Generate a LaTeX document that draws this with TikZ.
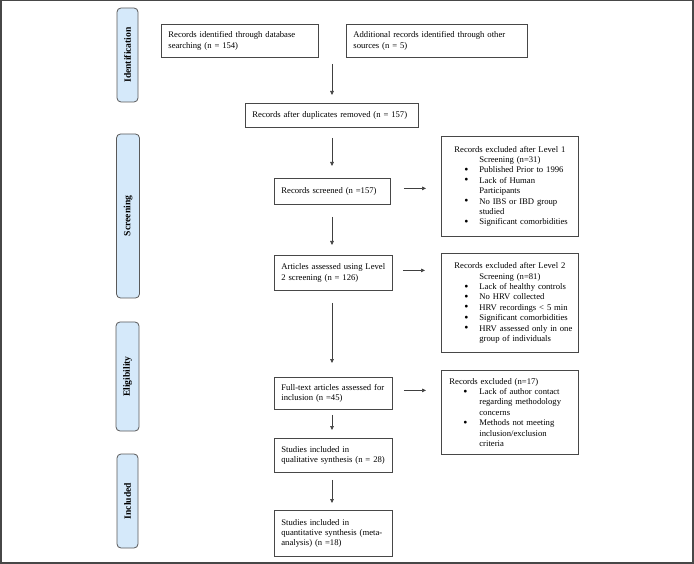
\documentclass[tikz,border=0pt]{standalone}
\usepackage{fontspec}
\setmainfont{Liberation Serif}
\usetikzlibrary{arrows.meta}
\definecolor{labblue}{HTML}{D5E9FA}
\newcommand\fs{\fontsize{8.65}{10.4}\selectfont}
\newcommand\bul{\raisebox{-0.6pt}{\scalebox{1.35}{•}}}
\newcommand\bla[1]{\hspace*{23pt}\makebox[15pt][l]{\bul}#1}
\newcommand\blc[1]{\hspace*{22pt}\makebox[16pt][l]{\bul}#1}
\newcommand\cnt[1]{\makebox[137pt][c]{#1}}
\tikzset{
  box/.style={draw=black!72, line width=0.8pt, anchor=north west, inner xsep=7pt, inner ysep=0pt, align=left, font=\fs},
  exbox/.style={draw=black!72, line width=0.8pt, anchor=north west, inner xsep=0pt, inner ysep=0pt, align=left, font=\fs, text width=137pt, minimum width=137pt},
  lab/.style={draw=black!65, fill=labblue, rounded corners=4pt, line width=0.8pt, rotate=90, font=\bfseries\fontsize{9.6}{11}\selectfont},
  arr/.style={-{Triangle[length=4pt,width=3.6pt]}, line width=0.6pt, draw=black!75},
}
\begin{document}
\begin{tikzpicture}[x=1pt,y=-1pt]
\useasboundingbox (0,0) rectangle (694,564);
\draw[line width=1.5pt, draw=black!72] (0.75,0.75) rectangle (692.75,562.75);

% phase labels
\node[lab, minimum width=94pt, minimum height=21pt] (L1) at (127.5,55) {Identification};
\node[lab, minimum width=164pt, minimum height=23pt] (L2) at (128,216) {Screening};
\node[lab, minimum width=109pt, minimum height=23pt] (L3) at (127.5,376.5) {Eligibility};
\node[lab, minimum width=94pt, minimum height=21pt] (L4) at (127.5,501) {Included};

% main boxes
\node[box, minimum width=157pt, minimum height=33pt, text width=143pt] (b1) at (161,24) {Records identified through database\\searching (n = 154)};
\node[box, minimum width=181pt, minimum height=33pt, text width=167pt] (b2) at (346,24) {Additional records identified through other\\sources (n = 5)};
\node[box, minimum width=173pt, minimum height=24pt, text width=159pt] (dup) at (245,103) {Records after duplicates removed (n = 157)};
\node[box, minimum width=116pt, minimum height=26pt, text width=102pt] (scr) at (274,178) {Records screened (n =157)};
\node[box, minimum width=118pt, minimum height=35pt, text width=104pt] (art) at (274,255) {Articles assessed using Level\\2 screening (n = 126)};
\node[box, minimum width=118pt, minimum height=32pt, text width=104pt] (ft) at (274,377) {Full-text articles assessed for\\inclusion (n =45)};
\node[box, minimum width=118pt, minimum height=34pt, text width=104pt] (qual) at (274,438) {Studies included in\\qualitative synthesis (n = 28)};
\node[box, minimum width=118pt, minimum height=46pt, text width=104pt] (quant) at (274,510) {Studies included in\\quantitative synthesis (meta-\\analysis) (n =18)};

% exclusion boxes
\node[exbox, minimum height=100pt] (ex1) at (441,136) {\cnt{Records excluded after Level 1}\\\cnt{Screening (n=31)}\\\bla{Published Prior to 1996}\\\bla{Lack of Human}\\\hspace*{38pt}Participants\\\bla{No IBS or IBD group}\\\hspace*{38pt}studied\\\bla{Significant comorbidities}};
\node[exbox, minimum height=99pt] (ex2) at (441,253) {\cnt{Records excluded after Level 2}\\\cnt{Screening (n=81)}\\\bla{Lack of healthy controls}\\\bla{No HRV collected}\\\bla{HRV recordings < 5 min}\\\bla{Significant comorbidities}\\\bla{HRV assessed only in one}\\\hspace*{38pt}group of individuals};
\node[exbox, minimum height=84pt] (ex3) at (441,370) {\hspace*{8pt}Records excluded (n=17)\\\blc{Lack of author contact}\\\hspace*{38pt}regarding methodology\\\hspace*{38pt}concerns\\\blc{Methods not meeting}\\\hspace*{38pt}inclusion/exclusion\\\hspace*{38pt}criteria};

% down arrows
\coordinate (t0) at (332,64);
\draw[arr, shorten >=8pt] (t0) -- (t0 |- dup.north);
\draw[arr, shorten <=10pt, shorten >=12pt] (dup.south -| t0) -- (t0 |- scr.north);
\draw[arr, shorten <=12pt, shorten >=10pt] (scr.south -| t0) -- (t0 |- art.north);
\draw[arr, shorten <=12pt, shorten >=14pt] (art.south -| t0) -- (t0 |- ft.north);
\draw[arr, shorten <=5pt, shorten >=8pt] (ft.south -| t0) -- (t0 |- qual.north);
\draw[arr, shorten <=7pt, shorten >=7pt] (qual.south -| t0) -- (t0 |- quant.north);

% right arrows
\path ([yshift=3pt]scr.east) coordinate (r1);
\draw[arr, shorten <=13pt, shorten >=15pt] (r1) -- (r1 -| ex1.west);
\path ([yshift=2.5pt]art.east) coordinate (r2);
\draw[arr, shorten <=10pt, shorten >=16pt] (r2) -- (r2 -| ex2.west);
\path ([yshift=3pt]ft.east) coordinate (r3);
\draw[arr, shorten <=11pt, shorten >=15pt] (r3) -- (r3 -| ex3.west);
\end{tikzpicture}
\end{document}
